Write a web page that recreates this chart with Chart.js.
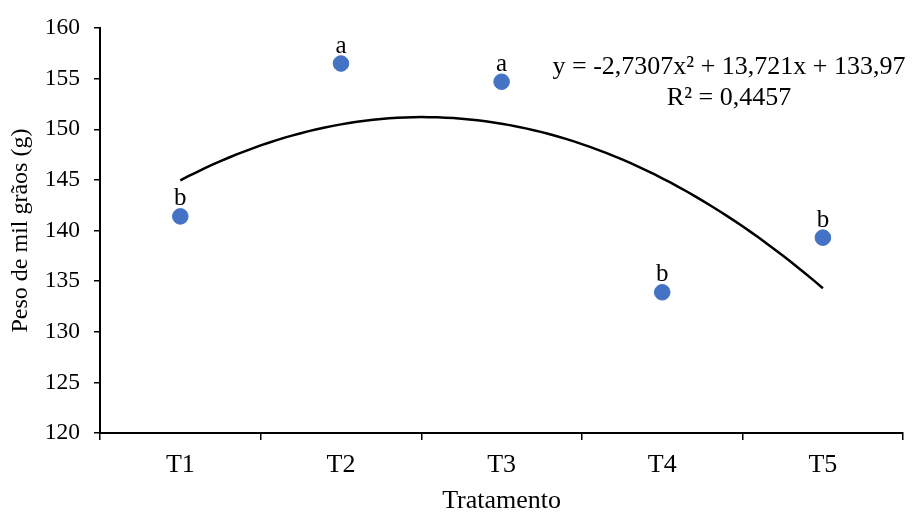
<!DOCTYPE html>
<html>
<head>
<meta charset="utf-8">
<script src="https://cdn.jsdelivr.net/npm/chart.js@4.4.1/dist/chart.umd.min.js"></script>
<style>
html,body{margin:0;padding:0;background:#fff;}
#wrap{width:912px;height:514px;position:relative;}
</style>
</head>
<body>
<div id="wrap"><canvas id="c" width="912" height="514"></canvas></div>
<script>
const categories = ["T1", "T2", "T3", "T4", "T5"];
const pesoValues = [141.4, 156.5, 154.7, 133.9, 139.3];
const letterLabels = ["b", "a", "a", "b", "b"];
const trendCoefficients = [-2.7307, 13.721, 133.97]; // a, b, c of y = a x² + b x + c
const equationLines = ["y = -2,7307x² + 13,721x + 133,97", "R² = 0,4457"];
const yTicks = [120, 125, 130, 135, 140, 145, 150, 155, 160];

const FONT = "'Liberation Serif', 'Times New Roman', serif";

// trendline sampled along the regression equation from T1 (x=1) to T5 (x=5)
const trendPoints = [];
for (let i = 0; i <= 80; i++) {
  const x = 1 + i * 0.05;
  const [a, b, c] = trendCoefficients;
  trendPoints.push({x: x, y: a * x * x + b * x + c});
}

const annot = {
  id: 'annot',
  afterDatasetsDraw(chart) {
    const ctx = chart.ctx;
    const meta = chart.getDatasetMeta(1);
    ctx.save();
    ctx.fillStyle = '#000';
    ctx.font = '25px ' + FONT;
    ctx.textAlign = 'center';
    ctx.textBaseline = 'alphabetic';
    meta.data.forEach((pt, i) => {
      ctx.fillText(letterLabels[i], pt.x, pt.y - 11);
    });
    ctx.font = '26px ' + FONT;
    ctx.fillText(equationLines[0], 729, 74);
    ctx.fillText(equationLines[1], 729, 105);
    ctx.restore();
  }
};

new Chart(document.getElementById('c'), {
  data: {
    labels: categories,
    datasets: [
      {
        type: 'line',
        data: trendPoints,
        xAxisID: 'xt',
        borderColor: '#000',
        borderWidth: 2.5,
        pointRadius: 0,
        tension: 0,
        fill: false
      },
      {
        type: 'scatter',
        data: pesoValues,
        xAxisID: 'x',
        backgroundColor: '#4472C4',
        borderColor: '#4472C4',
        pointRadius: 7.8,
        pointHoverRadius: 7.8,
        showLine: false
      }
    ]
  },
  options: {
    responsive: false,
    animation: false,
    events: [],
    layout: {padding: {top: 27, right: 7, left: 0, bottom: 0}},
    plugins: {legend: {display: false}, tooltip: {enabled: false}},
    scales: {
      x: {
        type: 'category',
        offset: true,
        grid: {offset: true, drawOnChartArea: false, drawTicks: true, tickLength: 7, color: '#000', lineWidth: 1.5},
        border: {display: true, color: '#000', width: 2},
        ticks: {color: '#000', font: {family: FONT, size: 26}, padding: 10, maxRotation: 0},
        title: {display: true, text: 'Tratamento', color: '#000', font: {family: FONT, size: 26, lineHeight: 1.0}, padding: {top: 0, bottom: 0}},
        afterFit(s) { s.height = 81; }
      },
      xt: {
        type: 'linear',
        display: false,
        min: 0.5,
        max: 5.5
      },
      y: {
        type: 'linear',
        min: 120,
        max: 160,
        afterBuildTicks(s) { s.ticks = yTicks.map(v => ({value: v})); },
        grid: {drawOnChartArea: false, drawTicks: true, tickLength: 6, color: '#000', lineWidth: 1.5},
        border: {display: true, color: '#000', width: 2},
        ticks: {color: '#000', font: {family: FONT, size: 23.5}, padding: 14},
        title: {display: true, text: 'Peso de mil grãos (g)', color: '#000', font: {family: FONT, size: 24}, padding: {top: 6, bottom: 0}},
        afterFit(s) { s.width = 100; }
      }
    }
  },
  plugins: [annot]
});
</script>
</body>
</html>
